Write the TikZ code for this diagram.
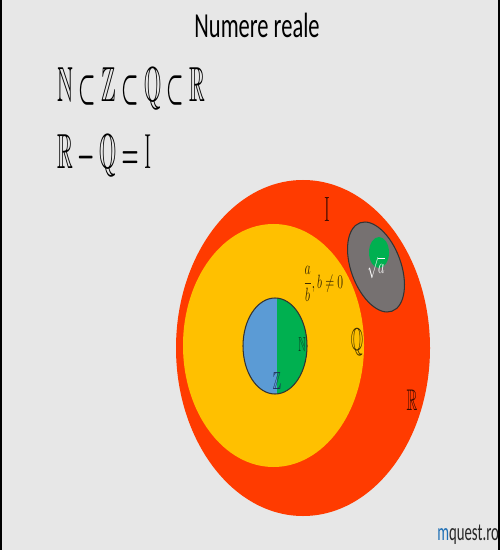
\documentclass[tikz,border=0pt]{standalone}
\usepackage{amsmath, amssymb}
\usepackage{graphicx}
\usepackage{fontspec}
\newfontfamily\carlito{Carlito}
\usepackage{tikz}
\usetikzlibrary{positioning}
\definecolor{setbg}{HTML}{E7E7E7}
\definecolor{setred}{HTML}{FF3B00}
\definecolor{setyellow}{HTML}{FFC000}
\definecolor{setblue}{HTML}{5B9BD5}
\definecolor{setgreen}{HTML}{00B050}
\definecolor{setgray}{HTML}{767171}
\definecolor{inkred}{HTML}{3A0A00}
\definecolor{inkbrown}{HTML}{3D2B00}
\definecolor{inkgreen}{HTML}{0B4020}
\definecolor{inknavy}{HTML}{1F2A50}
\definecolor{webblue}{HTML}{1F6FB5}
\newcommand{\narrowtext}[2][0.5]{\scalebox{#1}[1]{#2}}

\begin{document}
\begin{tikzpicture}[x=0.02cm, y=-0.02cm,
  setlabel/.style={inner sep=0pt, text=#1},
  rim/.style={draw=black!80, line width=0.6pt}
]
  \useasboundingbox (0,0) rectangle (500,550);
  \fill[setbg] (0,0) rectangle (500,550);
  % Frame edges
  \fill[black] (0,0) rectangle (1.5,550);
  \fill[black] (497.5,0) rectangle (500,550);

  % Title
  \node[font=\carlito\fontsize{20}{24}\selectfont, text=black] (title)
    at (257,25) {\narrowtext[0.64]{Numere reale}};

  % Inclusions
  \node[setlabel=black, anchor=base west] (incl) at (57,102)
    {\narrowtext[0.445]{\fontsize{28}{32}\selectfont
      $\mathbb{N}\boldsymbol{\subset}\mathbb{Z}\boldsymbol{\subset}
       \mathbb{Q}\boldsymbol{\subset}\mathbb{R}$}};
  \node[setlabel=black, anchor=base west] (diff) at (57,169)
    {\narrowtext[0.445]{\fontsize{28}{32}\selectfont
      $\mathbb{R} \boldsymbol{-} \mathbb{Q} \boldsymbol{=} \mathrm{I}$}};

  % Sets
  \fill[setred] (303,348) ellipse [x radius=127, y radius=168];
  \fill[setyellow] (273.5,345.5) ellipse [x radius=90.5, y radius=121.5];
  \begin{scope}
    \clip (275,346) ellipse [x radius=32, y radius=48];
    \fill[setblue] (240,295) rectangle (277,400);
    \fill[setgreen] (277,295) rectangle (310,400);
  \end{scope}
  \draw[rim] (275,346) ellipse [x radius=32, y radius=48];
  \draw[rim, fill=setgray, rotate around={20:(376,267)}]
    (376,267) ellipse [x radius=25, y radius=47];
  \fill[setgreen] (379,252.5) ellipse [x radius=10, y radius=15.5];

  % Labels
  \node[setlabel=inkred, font=\fontsize{20}{24}\selectfont] (irr)
    at (327,210) {\narrowtext{$\mathrm{I}$}};
  \node[setlabel=inkred, font=\fontsize{17}{20}\selectfont] (real)
    at (412,400) {\narrowtext{$\mathbb{R}$}};
  \node[setlabel=inkbrown, font=\fontsize{18}{22}\selectfont, anchor=base] (rat)
    at (357,350) {\narrowtext{$\mathbb{Q}$}};
  \node[setlabel=inkgreen, font=\fontsize{11.5}{14}\selectfont] (nat)
    at (302,345) {\narrowtext{$\mathbb{N}$}};
  \node[setlabel=inknavy, font=\fontsize{14}{17}\selectfont] (int)
    at (277,381) {\narrowtext{$\mathbb{Z}$}};
  \node[setlabel=inkbrown, font=\fontsize{11}{13}\selectfont, anchor=base west] (frac)
    at (303,288) {\narrowtext[0.6]{$\dfrac{a}{b}, b\neq 0$}};
  \node[setlabel=white, font=\fontsize{12}{14}\selectfont] (root)
    at (376,268) {\narrowtext[0.6]{$\sqrt{a}$}};

  % Source
  \node[font=\carlito\fontsize{14}{16}\selectfont, anchor=base west, inner sep=0pt] (src)
    at (437,540) {\narrowtext[0.6]{\textcolor{webblue}{m}\textcolor{black!85}{quest.ro}}};
\end{tikzpicture}
\end{document}
